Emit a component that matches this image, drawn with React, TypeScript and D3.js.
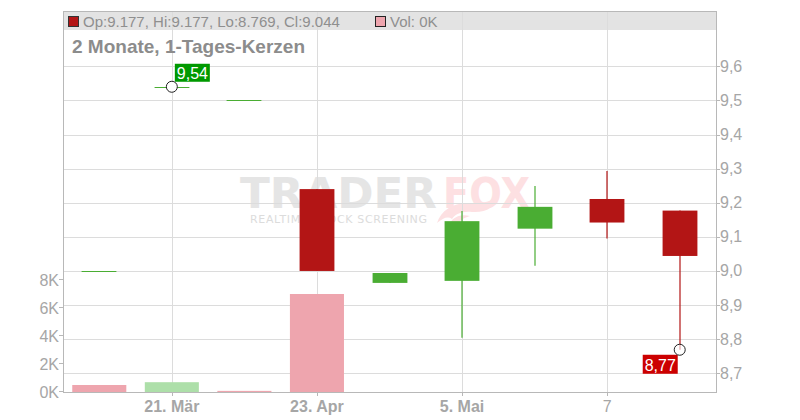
import { useEffect } from 'react';
import * as d3 from 'd3';

// Handelstage (Kategorien der X-Achse)
const dates = ['14.03.', '21.03.', '10.04.', '23.04.', '30.04.', '05.05.', '06.05.', '07.05.', '08.05.'];
// Kerzen-Daten
const opens = [9.0, 9.54, 9.5, 9.24, 8.965, 8.971, 9.124, 9.211, 9.177];
const highs = [9.0, 9.54, 9.5, 9.24, 8.994, 9.176, 9.249, 9.293, 9.177];
const lows = [9.0, 9.54, 9.5, 9.0, 8.965, 8.804, 9.015, 9.095, 8.769];
const closes = [9.0, 9.54, 9.5, 9.0, 8.994, 9.146, 9.188, 9.142, 9.044];
// Volumen + Farbe des Volumenbalkens (true = grün)
const volumes = [500, 700, 80, 7000, 0, 0, 0, 0, 0];
const volumeUp = [false, true, false, false, true, true, true, true, false];

// Achsen
const tickDates = ['21.03.', '23.04.', '05.05.', '07.05.'];
const tickLabels = ['21. Mär', '23. Apr', '5. Mai', '7'];
const tickBold = [true, true, true, false];
const priceTicks = [8.7, 8.8, 8.9, 9.0, 9.1, 9.2, 9.3, 9.4, 9.5, 9.6];
const volumeTicks = [0, 2000, 4000, 6000, 8000];

// Markierungen Hoch / Tief
const highMarker = { date: '21.03.', value: 9.54 };
const lowMarker = { date: '08.05.', value: 8.769 };

const W = 800;
const H = 420;
const plot = { left: 63, right: 716, top: 11, bottom: 392 };
const FONT = '"Liberation Sans", Arial, sans-serif';
const WM_FONT = '"DejaVu Sans", sans-serif';

const RED = '#b31515';
const GREEN = '#4aad33';
const VOL_RED = '#eea5ae';
const VOL_GREEN = '#addfa9';
const GRID = '#dcdcdc';
const AXIS = '#b8b8b8';
const LABEL = '#a6a6a6';

const de = d3.formatLocale({ decimal: ',', thousands: '.', grouping: [3], currency: ['', ' €'] });
const fmtPrice = de.format('.1f');
const fmtMarker = de.format('.2f');

export default function App() {
  useEffect(() => {
    document.body.style.margin = '0';
  }, []);

  const x = d3.scaleBand<string>().domain(dates).range([plot.left, plot.right]).padding(0);
  const bw = x.bandwidth();
  const cx = (d: string) => (x(d) as number) + bw / 2;
  const y = d3.scaleLinear().domain([8.7, 9.6]).range([373.3, 66.3]);
  const yv = d3.scaleLinear().domain([0, 8000]).range([plot.bottom, 280]);
  const crisp = (v: number) => Math.round(v) + 0.5;

  const bodyW = bw * 0.48;
  const volW = bw * 0.745;

  const hx = cx(highMarker.date);
  const hy = y(highMarker.value);
  const lx = cx(lowMarker.date);
  const ly = y(lowMarker.value);

  const last = dates.length - 1;
  const legend = `Op:${opens[last].toFixed(3)}, Hi:${highs[last].toFixed(3)}, Lo:${lows[last].toFixed(3)}, Cl:${closes[last].toFixed(3)}`;

  return (
    <svg width={W} height={H} style={{ position: 'absolute', left: 0, top: 0, display: 'block' }} fontFamily={FONT}>
      <rect x={0} y={0} width={W} height={H} fill="#fff" />

      {/* Kopfzeile */}
      <rect x={plot.left} y={plot.top} width={plot.right - plot.left} height={19} fill="#e3e3e3" />

      {/* Wasserzeichen */}
      <g>
        <text x={240} y={208} fontFamily={WM_FONT} fontWeight="bold" fontSize={42}
          fill="#e5e5e5" textLength={197} lengthAdjust="spacingAndGlyphs">TRADER</text>
        <text x={443} y={208} fontFamily={WM_FONT} fontWeight="bold" fontSize={42}
          fill="#fde0e2" textLength={87} lengthAdjust="spacingAndGlyphs">FOX</text>
        <text x={250} y={223} fontFamily={WM_FONT} fontSize={11} fill="#dcdcdc"
          textLength={177} lengthAdjust="spacing">REALTIME STOCK SCREENING</text>
        <path d="M437,223 C441,210 454,202 470,203 C486,204 494,200 498,195 C496,207 486,213 472,212 C462,211 455,214 452,219 C448,216 443,218 437,223 Z"
          fill="#fde0e2" />
        <path d="M450,223 C454,216 462,214 470,216 C464,218 460,220 458,224 Z" fill="#fde0e2" />
      </g>

      {/* Gitter */}
      {priceTicks.map((t) => (
        <line key={'gy' + t} x1={plot.left} x2={plot.right} y1={crisp(y(t))} y2={crisp(y(t))} stroke={GRID} />
      ))}
      {tickDates.map((d) => (
        <line key={'gx' + d} x1={crisp(cx(d))} x2={crisp(cx(d))} y1={plot.top} y2={plot.bottom} stroke={GRID} />
      ))}

      {/* Legende */}
      <rect x={68.5} y={16.5} width={10} height={10} fill={RED} stroke="#333" />
      <text x={83} y={27} fontSize={15} fill="#8f8f8f">{legend}</text>
      <rect x={375.5} y={16.5} width={10} height={10} fill={VOL_RED} stroke="#222" />
      <text x={390} y={27} fontSize={15} fill="#8f8f8f">{`Vol: ${Math.round(volumes[last] / 1000)}K`}</text>

      <text x={72} y={53} fontSize={19} fontWeight="bold" fill="#8c8c8c">2 Monate, 1-Tages-Kerzen</text>

      {/* Volumen */}
      {dates.map((d, i) =>
        volumes[i] > 0 ? (
          <rect key={'v' + d} x={cx(d) - volW / 2} y={yv(volumes[i])} width={volW}
            height={plot.bottom - yv(volumes[i])} fill={volumeUp[i] ? VOL_GREEN : VOL_RED} />
        ) : null
      )}

      {/* Kerzen */}
      {dates.map((d, i) => {
        const up = closes[i] >= opens[i];
        const col = up ? GREEN : RED;
        const c = crisp(cx(d)) - 0.5;
        const top = y(Math.max(opens[i], closes[i]));
        const bot = y(Math.min(opens[i], closes[i]));
        if (bot - top < 1) {
          return (
            <line key={'c' + d} x1={c - bodyW / 2} x2={c + bodyW / 2} y1={crisp(top)} y2={crisp(top)} stroke={col} />
          );
        }
        return (
          <g key={'c' + d}>
            <line x1={c} x2={c} y1={y(highs[i])} y2={y(lows[i])} stroke={col} strokeWidth={1.2} />
            <rect x={c - bodyW / 2} y={top} width={bodyW} height={bot - top} fill={col} />
          </g>
        );
      })}

      {/* Markierungen */}
      <rect x={hx + 3} y={hy - 23} width={35} height={18} fill="#009900" />
      <text x={hx + 5} y={hy - 8} fontSize={16} fill="#fff">{fmtMarker(highMarker.value)}</text>
      <circle cx={hx} cy={hy} r={5.5} fill="#fff" stroke="#222" />

      <rect x={lx - 37} y={ly + 5} width={35} height={19} fill="#cc0000" />
      <text x={lx - 35} y={ly + 21} fontSize={16} fill="#fff">{fmtMarker(lowMarker.value)}</text>
      <circle cx={lx} cy={ly} r={5.5} fill="#fff" fillOpacity={0.6} stroke="#222" />

      {/* Achsenlinien */}
      <line x1={plot.left} x2={plot.right} y1={plot.top + 0.5} y2={plot.top + 0.5} stroke={AXIS} />
      <line x1={plot.left + 0.5} x2={plot.left + 0.5} y1={plot.top} y2={plot.bottom} stroke={AXIS} />
      <line x1={plot.right + 0.5} x2={plot.right + 0.5} y1={plot.top} y2={plot.bottom} stroke={AXIS} />
      <line x1={plot.left} x2={plot.right + 1} y1={plot.bottom + 0.5} y2={plot.bottom + 0.5} stroke={AXIS} />

      {/* rechte Preisachse */}
      {priceTicks.map((t) => (
        <g key={'py' + t}>
          <line x1={plot.right} x2={plot.right + 4} y1={crisp(y(t))} y2={crisp(y(t))} stroke={AXIS} />
          <text x={plot.right + 4} y={y(t) + 5.5} fontSize={16} fill={LABEL}>{fmtPrice(t)}</text>
        </g>
      ))}

      {/* linke Volumenachse */}
      {volumeTicks.map((t) => (
        <g key={'vy' + t}>
          <line x1={plot.left - 4} x2={plot.left} y1={crisp(yv(t)) - 1} y2={crisp(yv(t)) - 1} stroke={AXIS} />
          <text x={plot.left - 4} y={yv(t) + 5.5} fontSize={16} fill={LABEL} textAnchor="end">{`${t / 1000}K`}</text>
        </g>
      ))}

      {/* X-Achse */}
      {tickDates.map((d, i) => (
        <g key={'xt' + d}>
          <line x1={crisp(cx(d))} x2={crisp(cx(d))} y1={plot.bottom} y2={plot.bottom + 4} stroke={AXIS} />
          <text x={cx(d)} y={412} fontSize={16} fill={LABEL} textAnchor="middle"
            fontWeight={tickBold[i] ? 'bold' : 'normal'}>{tickLabels[i]}</text>
        </g>
      ))}
    </svg>
  );
}
